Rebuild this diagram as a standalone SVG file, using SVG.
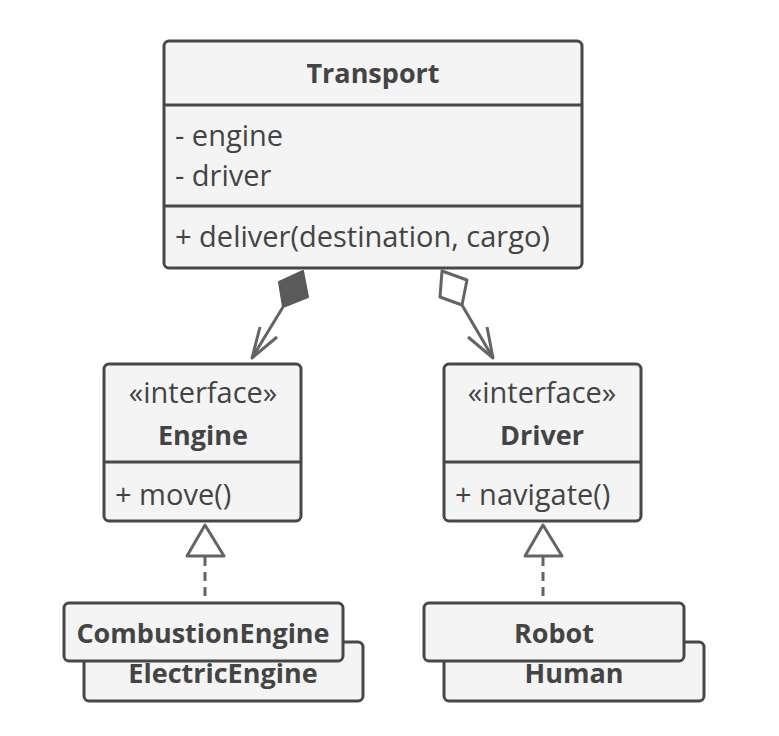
<svg xmlns="http://www.w3.org/2000/svg" width="779" height="736" viewBox="0 0 779 736">
<style>
.box{fill:#f4f4f4;stroke:#474747;stroke-width:3}
.div{stroke:#474747;stroke-width:3}
.t{font-family:"Open Sans","Noto Sans",sans-serif;font-size:29px;fill:#444}
.b{font-weight:bold;font-size:27px}
.c{text-anchor:middle}
.ln{stroke:#646464;stroke-width:3;fill:none}
</style>
<rect width="779" height="736" fill="#ffffff"/>
<g id="connectors">
  <polygon points="303,271 308,297 283,307 279,282" fill="#5a5a5a" stroke="#5a5a5a" stroke-width="2" stroke-linejoin="round"/>
  <polyline class="ln" points="283,307 252,358"/>
  <polyline class="ln" points="260,327 252,358 277,337" stroke-linejoin="round"/>
  <polygon points="442,271 467,280 462,305 440,297" fill="#ffffff" stroke="#646464" stroke-width="3" stroke-linejoin="round"/>
  <polyline class="ln" points="462,305 493,358"/>
  <polyline class="ln" points="487,327 493,358 468,337" stroke-linejoin="round"/>
  <line class="ln" x1="205" y1="557" x2="205" y2="598" stroke-dasharray="9,6"/>
  <polygon points="205,525 187,556 224,556" fill="#ffffff" stroke="#646464" stroke-width="3" stroke-linejoin="round"/>
  <line class="ln" x1="543" y1="557" x2="543" y2="598" stroke-dasharray="9,6"/>
  <polygon points="543,525 525,556 562,556" fill="#ffffff" stroke="#646464" stroke-width="3" stroke-linejoin="round"/>
</g>
<g id="transport">
  <rect class="box" x="164" y="41" width="418" height="227" rx="5"/>
  <line class="div" x1="164" y1="105" x2="582" y2="105"/>
  <line class="div" x1="164" y1="206" x2="582" y2="206"/>
  <text class="t b c" x="373" y="83">Transport</text>
  <text class="t" x="175" y="146">- engine</text>
  <text class="t" x="175" y="186">- driver</text>
  <text class="t" x="175" y="247">+ deliver(destination, cargo)</text>
</g>
<g id="engine">
  <rect class="box" x="104" y="364" width="197" height="157" rx="5"/>
  <line class="div" x1="104" y1="462" x2="301" y2="462"/>
  <text class="t c" x="203" y="403">«interface»</text>
  <text class="t b c" x="203" y="445">Engine</text>
  <text class="t" x="115" y="505">+ move()</text>
</g>
<g id="driver">
  <rect class="box" x="444" y="364" width="197" height="157" rx="5"/>
  <line class="div" x1="444" y1="462" x2="641" y2="462"/>
  <text class="t c" x="542" y="403">«interface»</text>
  <text class="t b c" x="542" y="445">Driver</text>
  <text class="t" x="455" y="505">+ navigate()</text>
</g>
<g id="electricengine">
  <rect class="box" x="84" y="642" width="279" height="59" rx="5"/>
  <text class="t b c" x="223" y="683">ElectricEngine</text>
</g>
<g id="combustionengine">
  <rect class="box" x="64" y="603" width="279" height="58" rx="5"/>
  <text class="t b c" x="203" y="643">CombustionEngine</text>
</g>
<g id="human">
  <rect class="box" x="444" y="642" width="260" height="59" rx="5"/>
  <text class="t b c" x="574" y="683">Human</text>
</g>
<g id="robot">
  <rect class="box" x="424" y="603" width="260" height="58" rx="5"/>
  <text class="t b c" x="554" y="643">Robot</text>
</g>
</svg>
